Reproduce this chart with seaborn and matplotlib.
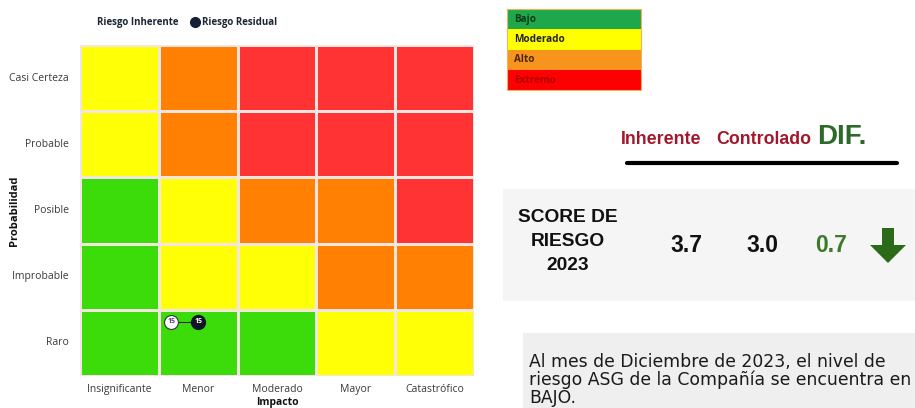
import numpy as np
import pandas as pd
import matplotlib
matplotlib.use("Agg")
import matplotlib.pyplot as plt
from matplotlib.colors import ListedColormap
from matplotlib.lines import Line2D
from matplotlib.patches import Rectangle, Polygon
import seaborn as sns

# ---------------- data ----------------
impact_labels = ["Insignificante", "Menor", "Moderado", "Mayor", "Catastrófico"]
prob_labels = ["Casi Certeza", "Probable", "Posible", "Improbable", "Raro"]
# 1=Bajo, 2=Moderado, 3=Alto, 4=Extremo
risk_levels = [
    [2, 3, 4, 4, 4],
    [2, 3, 4, 4, 4],
    [1, 2, 3, 3, 4],
    [1, 2, 2, 3, 3],
    [1, 1, 1, 2, 2],
]
level_colors = ["#3cdc0b", "#ffff05", "#ff8003", "#ff3333"]

inherent_impact = "Menor"
inherent_prob = "Raro"
inherent_label = "15"
residual_impact = "Menor"
residual_prob = "Raro"
residual_label = "15"

legend_levels = ["Bajo", "Moderado", "Alto", "Extremo"]
legend_fill = ["#1fa84b", "#ffff00", "#f7941d", "#ff0000"]
legend_text_col = ["#0b3a18", "#222222", "#4a2500", "#b00000"]

score_inherente = "3.7"
score_controlado = "3.0"
score_dif = "0.7"

summary_lines = ["Al mes de Diciembre de 2023, el nivel de",
                 "riesgo ASG de la Compañía se encuentra en",
                 "BAJO."]

# ---------------- figure ----------------
sns.set_style("white")
plt.rcParams["font.family"] = ["Open Sans", "DejaVu Sans"]

W, H = 915, 408
fig = plt.figure(figsize=(W / 100, H / 100), dpi=100)

def fx(px):
    return px / W

def fy(py):
    return 1 - py / H

ax = fig.add_axes([fx(80), fy(376), fx(474) - fx(80), fy(45) - fy(376)])
df = pd.DataFrame(risk_levels, index=prob_labels, columns=impact_labels)
sns.heatmap(df, ax=ax, cmap=ListedColormap(level_colors), vmin=0.5, vmax=4.5,
            cbar=False, linewidths=1.0, linecolor="#f3e6e0")
ax.tick_params(axis="y", length=0, pad=8, labelsize=7.5, colors="#3a3a3a")
ax.tick_params(axis="x", length=0, pad=6, labelsize=7.5, colors="#3a3a3a")
ax.set_yticklabels(prob_labels, rotation=0)
ax.set_xticklabels(impact_labels, rotation=0)
ax.set_xlabel("Impacto", fontsize=7.5, fontweight="bold", color="#111111")
ax.xaxis.set_label_coords(0.5, -0.064)
ax.set_ylabel("Probabilidad", fontsize=8, fontweight="bold", color="#111111")
ax.yaxis.set_label_coords(-0.152, 0.5)

# markers
ix = impact_labels.index(inherent_impact) + 0.16
iy = prob_labels.index(inherent_prob) + 0.18
rx = impact_labels.index(residual_impact) + 0.5
ry = prob_labels.index(residual_prob) + 0.18
ax.plot([ix, rx], [iy, ry], color="#2a2a3a", lw=0.8, zorder=3)
ax.plot([ix], [iy], marker="o", ms=10, mfc="white", mec="#333344", mew=0.8, zorder=4)
ax.plot([rx], [ry], marker="o", ms=10, mfc="#0f1526", mec="#0f1526", zorder=4)
ax.text(ix, iy, inherent_label, ha="center", va="center", fontsize=5, color="#5b3d82",
        fontweight="bold", zorder=5)
ax.text(rx, ry, residual_label, ha="center", va="center", fontsize=5, color="white",
        fontweight="bold", zorder=5)

# top legend
handles = [Line2D([], [], marker="o", ls="", ms=7, mfc="white", mec="white"),
           Line2D([], [], marker="o", ls="", ms=7, mfc="#152036", mec="#152036")]
leg = fig.legend(handles, ["Riesgo Inherente", "Riesgo Residual"], loc="center",
                 bbox_to_anchor=(fx(181), fy(23)), ncol=2, frameon=False,
                 handletextpad=0.2, columnspacing=1.2, handlelength=1.0,
                 prop={"size": 7, "weight": "bold"})
for t in leg.get_texts():
    t.set_color("#1b2535")

# ---------------- right side ----------------
# level legend box
row_h = 20.3
for i, (lab, fc, tc) in enumerate(zip(legend_levels, legend_fill, legend_text_col)):
    top = 9 + i * row_h
    fig.patches.append(Rectangle((fx(507), fy(top + row_h)), fx(641) - fx(507),
                                 fy(top) - fy(top + row_h), transform=fig.transFigure,
                                 facecolor=fc, edgecolor="none"))
    fig.text(fx(514), fy(top + row_h / 2), lab, fontsize=7.2, fontweight="bold",
             color=tc, va="center", ha="left", family=["Open Sans", "DejaVu Sans"])
fig.patches.append(Rectangle((fx(507), fy(90)), fx(641) - fx(507), fy(9) - fy(90),
                             transform=fig.transFigure, facecolor="none",
                             edgecolor="#f0b060", lw=0.8))

# header
hdr_font = ["Liberation Sans", "DejaVu Sans"]
fig.text(fx(661), fy(139), "Inherente", fontsize=12.8, fontweight="bold", color="#a3172c",
         ha="center", va="center", family=hdr_font)
fig.text(fx(764), fy(139), "Controlado", fontsize=12.8, fontweight="bold", color="#a3172c",
         ha="center", va="center", family=hdr_font)
fig.text(fx(842), fy(137), "DIF.", fontsize=20, fontweight="bold", color="#2d6a2a",
         ha="center", va="center", family=hdr_font)
fig.add_artist(Line2D([fx(627), fx(897)], [fy(163), fy(163)], color="black", lw=3,
                      transform=fig.transFigure))

# score box
fig.patches.append(Rectangle((fx(503), fy(301)), fx(915) - fx(503), fy(189) - fy(301),
                             transform=fig.transFigure, facecolor="#f5f5f5", edgecolor="none"))
for txt, yy in zip(["SCORE DE", "RIESGO", "2023"], [217, 241, 265]):
    fig.text(fx(568), fy(yy), txt, fontsize=13.8, fontweight="bold", color="#111111",
             ha="center", va="center", family=hdr_font)
fig.text(fx(686), fy(245), score_inherente, fontsize=16.5, fontweight="bold", color="#111111",
         ha="center", va="center", family=hdr_font)
fig.text(fx(762), fy(245), score_controlado, fontsize=16.5, fontweight="bold", color="#111111",
         ha="center", va="center", family=hdr_font)
fig.text(fx(831), fy(245), score_dif, fontsize=16.5, fontweight="bold", color="#3a7a2a",
         ha="center", va="center", family=hdr_font)
arrow_px = [(882, 228), (894, 228), (894, 245), (906, 245), (888, 263), (870, 245), (882, 245)]
fig.patches.append(Polygon([(fx(x), fy(y)) for x, y in arrow_px], closed=True,
                           transform=fig.transFigure, facecolor="#2b6a18", edgecolor="none"))

# summary box
fig.patches.append(Rectangle((fx(523), 0), fx(915) - fx(523), fy(333),
                             transform=fig.transFigure, facecolor="#efefef", edgecolor="none"))
for line, yy in zip(summary_lines, [362, 380, 398]):
    fig.text(fx(529), fy(yy), line, fontsize=12.4, color="#1a1a1a", ha="left", va="center",
             family=["DejaVu Sans"])

fig.savefig("out.png", dpi=100)
